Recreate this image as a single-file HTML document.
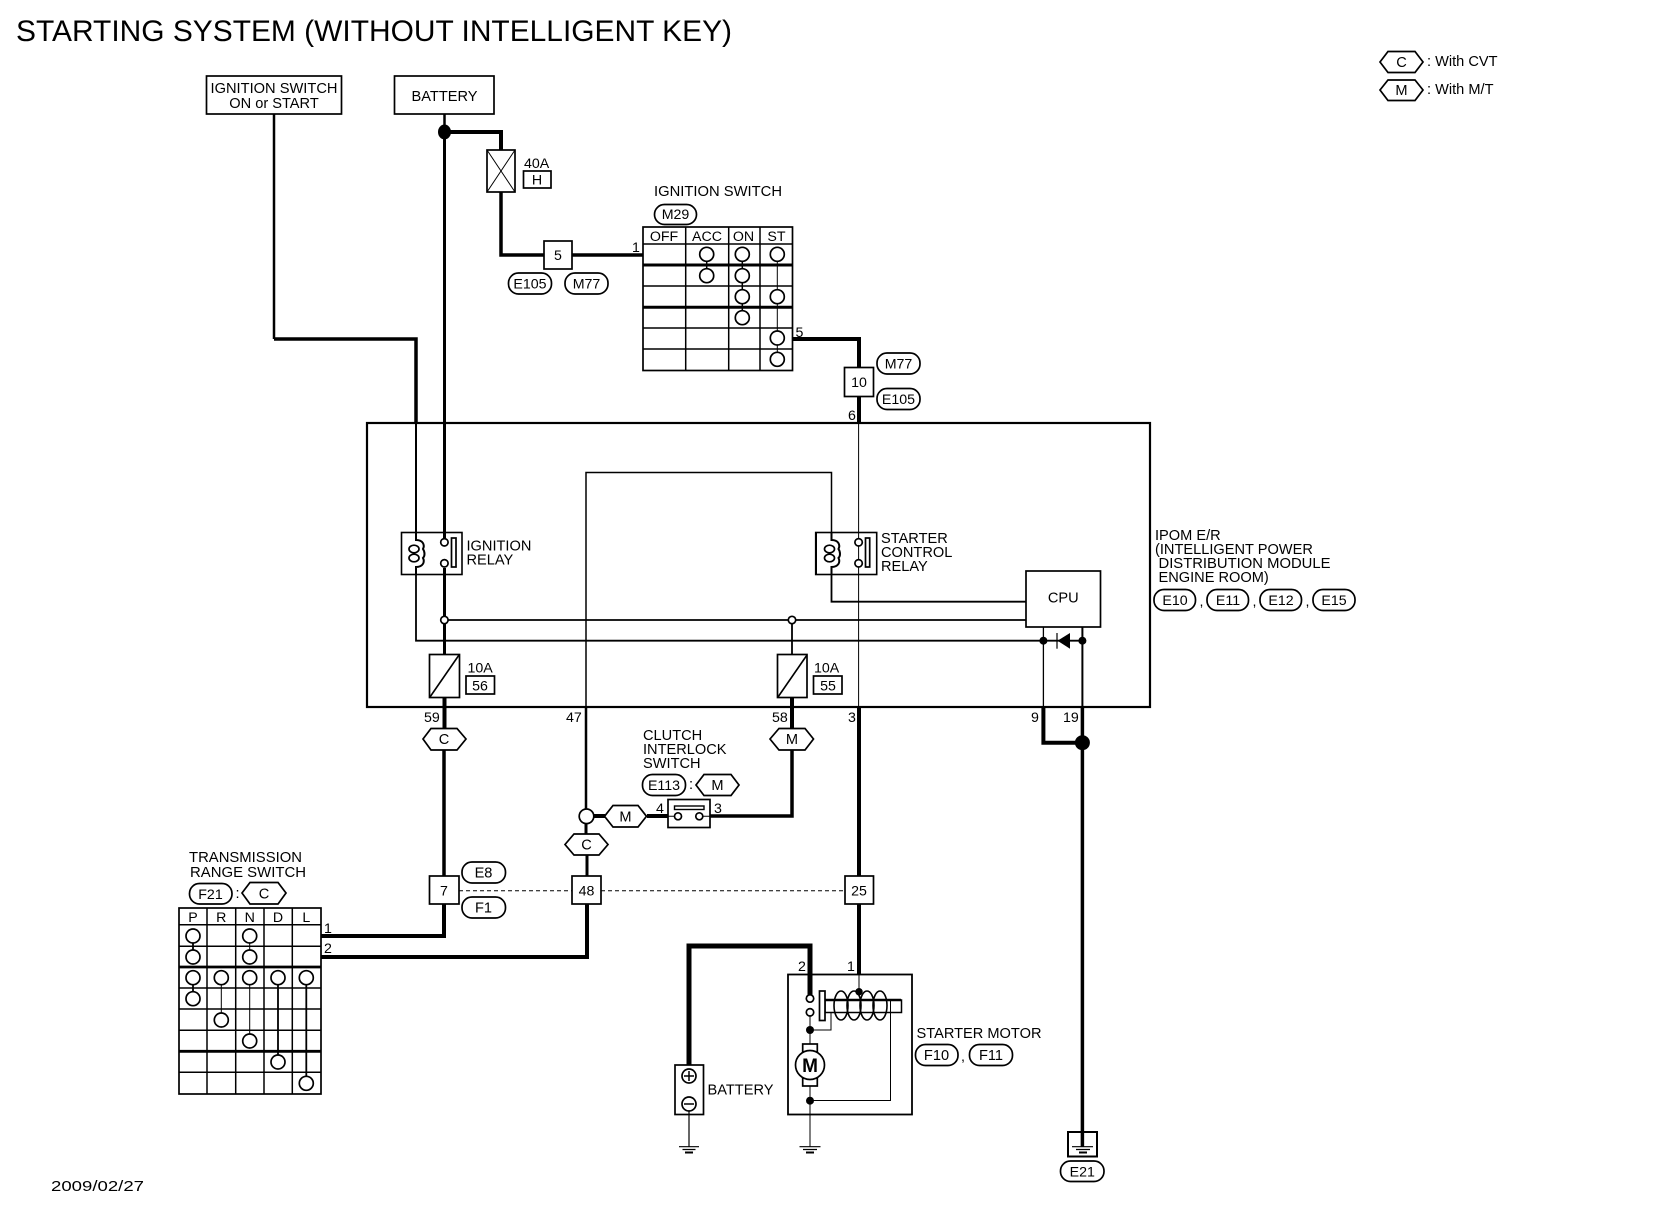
<!DOCTYPE html>
<html><head><meta charset="utf-8"><title>Starting System</title>
<style>
html,body{margin:0;padding:0;background:#fff}
svg{display:block}
text{font-family:"Liberation Sans",sans-serif;font-size:14.6px;fill:#000}
.c{text-anchor:middle}
.n{font-size:14.2px}
.e{fill:#fff;stroke:#000;stroke-width:1.7}
.l{fill:none;stroke:#000}
</style></head><body>
<svg width="1660" height="1216" viewBox="0 0 1660 1216" xmlns="http://www.w3.org/2000/svg">
<rect width="1660" height="1216" fill="#fff"/>
<text x="16" y="41" style="font-size:30px" textLength="716" lengthAdjust="spacingAndGlyphs">STARTING SYSTEM (WITHOUT INTELLIGENT KEY)</text>

<!-- legend -->
<polygon class="e" points="1380,62 1388,51.5 1415,51.5 1423,62 1415,72.5 1388,72.5"/>
<text class="c" x="1401.5" y="67">C</text>
<polygon class="e" points="1380,90 1388,80 1415,80 1423,90 1415,100.5 1388,100.5"/>
<text class="c" x="1401.5" y="95">M</text>
<text x="1427" y="66">: With CVT</text>
<text x="1427" y="94">: With M/T</text>

<!-- top boxes -->
<rect class="e" x="206.5" y="76" width="135" height="38" stroke-width="1.5"/>
<text class="c" x="274" y="93" textLength="127" lengthAdjust="spacingAndGlyphs">IGNITION SWITCH</text>
<text class="c" x="274" y="108">ON or START</text>
<rect class="e" x="394.5" y="76" width="99.5" height="38"/>
<text class="c" x="444.5" y="101">BATTERY</text>

<!-- wires -->
<g class="l">
<path stroke-width="2.5" d="M274 114V339"/>
<path stroke-width="3.5" d="M274 339H416V423"/>
<path stroke-width="2" d="M416 423V532"/>
<path stroke-width="2.5" d="M444.5 114V132"/>
<path stroke-width="3" d="M444.5 132V538"/>
<path stroke-width="4" d="M444.5 132H501V150"/>
<path stroke-width="3.5" d="M501 192V255H544"/>
<path stroke-width="3.5" d="M572 255H643"/>
<path stroke-width="4" d="M792 339H859V367"/>
<path stroke-width="4" d="M859 397V423"/>
<path stroke-width="1" d="M858.6 423V707"/>
<path stroke-width="4" d="M859 707V876"/>
<path stroke-width="4" d="M859 904V974"/>
<path stroke-width="3" d="M444.5 568V654"/>
<path stroke-width="4" d="M444.5 697V729"/>
<path stroke-width="3.5" d="M444 750V876"/>
<path stroke-width="4" d="M444 904V936H321"/>
<path stroke-width="4" d="M587 904V957H321"/>
<path stroke-width="1.8" d="M416 574V640.7H1043"/>
<path stroke-width="1.8" d="M444.5 620H1026"/>
<path stroke-width="1.8" d="M792 620V654"/>
<path stroke-width="4" d="M792 697V729"/>
<path stroke-width="3.5" d="M792 750V816H710"/>
<path stroke-width="1.5" d="M586 707V472.5H831.5V532"/>
<path stroke-width="1.8" d="M831.5 574V601.7H1026"/>
<path stroke-width="2.5" d="M586 707V809"/>
<path stroke-width="3" d="M586 824V834M587 855V876"/>
<path stroke-width="4" d="M593 816H605M647 816H668"/>
<path stroke-width="1.3" d="M1043.4 627V707"/>
<path stroke-width="2" d="M1082.4 627V707"/>
<path stroke-width="4" d="M1043.4 707V742.7H1082.4"/>
<path stroke-width="3.5" d="M1082.4 707V1147"/>
<path stroke-width="5" d="M689 1065V946H810V996"/>
<path stroke-width="1" stroke-dasharray="4 3" d="M459 890.7H572M601 890.7H845"/>
</g>
<ellipse cx="444.5" cy="132" rx="6.5" ry="7.5"/>
<circle cx="1082.4" cy="742.7" r="7.5"/>

<!-- fuse 40A -->
<rect class="e" x="487" y="150" width="28" height="42" stroke-width="2"/>
<path class="l" stroke-width="1" d="M487 150L515 192M515 150L487 192"/>
<text x="524" y="168" class="n">40A</text>
<rect class="e" x="523.5" y="171" width="27.5" height="17"/>
<text class="c n" x="537" y="184.5">H</text>

<!-- connector 5 -->
<rect class="e" x="544" y="241" width="28" height="28"/>
<text class="c n" x="558" y="260">5</text>
<rect class="e" x="508.5" y="273" width="43" height="21" rx="10"/>
<text class="c n" x="530" y="288.5">E105</text>
<rect class="e" x="565" y="273" width="43" height="21" rx="10"/>
<text class="c n" x="586.5" y="288.5">M77</text>
<text x="632" y="252" class="n">1</text>

<!-- ignition switch -->
<text x="654" y="196" textLength="128" lengthAdjust="spacingAndGlyphs">IGNITION SWITCH</text>
<rect class="e" x="654.5" y="204.5" width="42" height="20" rx="10"/>
<text class="c n" x="675.5" y="219">M29</text>
<rect class="e" x="643" y="227" width="149.5" height="143.5" stroke-width="2"/>
<g class="l" stroke-width="1.5">
<path d="M643 244H792M643 286H792M643 328H792M643 349H792"/>
<path d="M685.7 227V370M728.7 227V370M760 227V370"/>
</g>
<path class="l" stroke-width="3" d="M643 265H792M643 307.3H792"/>
<text class="c n" x="664" y="241">OFF</text>
<text class="c n" x="707" y="241">ACC</text>
<text class="c n" x="743.5" y="241">ON</text>
<text class="c n" x="776.5" y="241">ST</text>
<path class="l" stroke-width="1.5" d="M706.7 254V276M742.3 254V318"/>
<path class="l" stroke-width="1" d="M777.3 254V360"/>
<g class="e" stroke-width="1.7">
<circle cx="706.7" cy="254.3" r="7"/><circle cx="706.7" cy="275.7" r="7"/>
<circle cx="742.3" cy="254.3" r="7"/><circle cx="742.3" cy="275.7" r="7"/><circle cx="742.3" cy="296.7" r="7"/><circle cx="742.3" cy="317.7" r="7"/>
<circle cx="777.3" cy="254.3" r="7"/><circle cx="777.3" cy="296.7" r="7"/><circle cx="777.3" cy="338" r="7"/><circle cx="777.3" cy="359.3" r="7"/>
</g>
<text x="795.5" y="337" class="n">5</text>

<!-- connector 10 -->
<rect class="e" x="844.5" y="367.5" width="29" height="29"/>
<text class="c n" x="859" y="387">10</text>
<rect class="e" x="877" y="353" width="43" height="21" rx="10"/>
<text class="c n" x="898.5" y="368.5">M77</text>
<rect class="e" x="877" y="388.5" width="43" height="21" rx="10"/>
<text class="c n" x="898.5" y="404">E105</text>
<text x="848" y="420" class="n">6</text>

<!-- IPOM box -->
<rect class="l" x="367" y="423" width="783" height="284" stroke-width="2.2"/>
<text x="1155" y="540">IPOM E/R</text>
<text x="1155" y="554">(INTELLIGENT POWER</text>
<text x="1158.5" y="568" textLength="172" lengthAdjust="spacingAndGlyphs">DISTRIBUTION MODULE</text>
<text x="1158.5" y="582">ENGINE ROOM)</text>
<rect class="e" x="1154" y="589.5" width="41.5" height="21" rx="10"/><text class="c n" x="1175" y="605">E10</text>
<text x="1199.5" y="606" class="n">,</text>
<rect class="e" x="1207" y="589.5" width="41.5" height="21" rx="10"/><text class="c n" x="1228" y="605">E11</text>
<text x="1252.5" y="606" class="n">,</text>
<rect class="e" x="1260" y="589.5" width="41.5" height="21" rx="10"/><text class="c n" x="1281" y="605">E12</text>
<text x="1305.5" y="606" class="n">,</text>
<rect class="e" x="1313" y="589.5" width="42" height="21" rx="10"/><text class="c n" x="1334" y="605">E15</text>

<!-- ignition relay -->
<rect class="l" x="401.5" y="532.5" width="60.5" height="42" stroke-width="1.6"/>
<path class="l" stroke-width="2" d="M416 532V540c7 0 9 5 7 9c2 3 2 7 0 9c2 4 0 9-7 9V574"/>
<g class="l" stroke-width="1.7"><ellipse cx="414" cy="549" rx="5" ry="3.8"/><ellipse cx="414" cy="558" rx="5" ry="3.8"/></g>
<circle class="e" cx="444.4" cy="542.3" r="3.7"/><circle class="e" cx="444.4" cy="563.3" r="3.7"/>
<rect class="e" x="451.5" y="538" width="4.5" height="29"/>
<text x="466.5" y="550.5">IGNITION</text>
<text x="466.5" y="564.5">RELAY</text>

<!-- starter relay -->
<rect class="l" x="815.7" y="532.5" width="61" height="42" stroke-width="1.6"/>
<path class="l" stroke-width="2" d="M816 532.5V574.5"/>
<path class="l" stroke-width="2" d="M831.5 532V540c7 0 9 5 7 9c2 3 2 7 0 9c2 4 0 9-7 9V574"/>
<g class="l" stroke-width="1.7"><ellipse cx="829.5" cy="549" rx="5" ry="3.8"/><ellipse cx="829.5" cy="558" rx="5" ry="3.8"/></g>
<circle class="e" cx="858.6" cy="542.3" r="3.7"/><circle class="e" cx="858.6" cy="563.3" r="3.7"/>
<rect class="e" x="865.5" y="538" width="4.2" height="29"/>
<text x="881" y="543">STARTER</text>
<text x="881" y="557">CONTROL</text>
<text x="881" y="571">RELAY</text>

<!-- junctions -->
<circle class="e" cx="444.4" cy="620" r="3.7"/>
<circle class="e" cx="792" cy="620" r="3.7"/>

<!-- CPU -->
<rect class="e" x="1026" y="571" width="74.5" height="56"/>
<text class="c" x="1063.3" y="602.5">CPU</text>
<circle cx="1043.4" cy="640.7" r="4"/><circle cx="1082.4" cy="640.7" r="4"/>
<path class="l" stroke-width="1.8" d="M1043 640.7H1082"/>
<polygon points="1057.5,640.7 1070,633 1070,648.7"/>
<path class="l" stroke-width="1.2" d="M1057 633V648.7"/>

<!-- fuses 10A -->
<rect class="e" x="429.5" y="654.5" width="30" height="43" stroke-width="2"/>
<path class="l" stroke-width="1.6" d="M430 697L459 655"/>
<text x="467.5" y="672.5" class="n">10A</text>
<rect class="e" x="466" y="676" width="28.5" height="18"/>
<text class="c n" x="480" y="690.5">56</text>
<rect class="e" x="777.5" y="654.5" width="29.5" height="43" stroke-width="2"/>
<path class="l" stroke-width="1.6" d="M778 697L807 655"/>
<text x="814" y="672.5" class="n">10A</text>
<rect class="e" x="813.5" y="676" width="28.5" height="18"/>
<text class="c n" x="828" y="690.5">55</text>

<text x="424" y="722" class="n">59</text>
<text x="566" y="722" class="n">47</text>
<text x="772" y="722" class="n">58</text>
<text x="848" y="722" class="n">3</text>
<text x="1031" y="722" class="n">9</text>
<text x="1063" y="722" class="n">19</text>

<!-- hexes -->
<polygon class="e" points="423,739 431,728.5 457,728.5 466,739 457,750 431,750"/>
<text class="c" x="444" y="744">C</text>
<polygon class="e" points="770,739 779,728.5 805,728.5 813.5,739 805,750 779,750"/>
<text class="c" x="792" y="744">M</text>

<!-- clutch interlock -->
<text x="643" y="740">CLUTCH</text>
<text x="643" y="754">INTERLOCK</text>
<text x="643" y="768">SWITCH</text>
<rect class="e" x="642.5" y="774.5" width="43" height="21" rx="10"/>
<text class="c n" x="664" y="790">E113</text>
<text x="689" y="789">:</text>
<polygon class="e" points="696,785 704,774.5 731,774.5 739,785 731,795.5 704,795.5"/>
<text class="c" x="717.5" y="790">M</text>
<circle class="e" cx="586.5" cy="816.3" r="7.3"/>
<polygon class="e" points="604.5,816.3 613,805.5 638,805.5 646.5,816.3 638,827 613,827"/>
<text class="c" x="625.5" y="821.5">M</text>
<rect class="e" x="668" y="799.5" width="42" height="28"/>
<rect x="674.5" y="806" width="29.5" height="3.5" fill="#fff" stroke="#000" stroke-width="1.4"/>
<path class="l" stroke-width="1" d="M668 816.3H675M702.5 816.3H710"/>
<circle class="e" cx="678" cy="816.3" r="3.5"/><circle class="e" cx="699.3" cy="816.3" r="3.5"/>
<text x="656" y="813" class="n">4</text>
<text x="714" y="813" class="n">3</text>
<polygon class="e" points="565,844.5 574,834 599,834 608,844.5 599,855 574,855"/>
<text class="c" x="586.5" y="849.5">C</text>

<!-- connectors row -->
<rect class="e" x="429.5" y="876" width="29.5" height="28" stroke-width="2.2"/>
<text class="c n" x="444" y="895.5">7</text>
<rect class="e" x="572" y="876" width="29" height="28" stroke-width="2.2"/>
<text class="c n" x="586.5" y="895.5">48</text>
<rect class="e" x="845" y="876" width="28.5" height="28"/>
<text class="c n" x="859" y="895.5">25</text>
<rect class="e" x="462" y="862" width="43.5" height="21" rx="10"/>
<text class="c" x="483.5" y="877.5">E8</text>
<rect class="e" x="462" y="897" width="43.5" height="21" rx="10"/>
<text class="c" x="483.5" y="912.5">F1</text>

<!-- transmission range switch -->
<text x="189" y="862" textLength="113" lengthAdjust="spacingAndGlyphs">TRANSMISSION</text>
<text x="190" y="877" textLength="116" lengthAdjust="spacingAndGlyphs">RANGE SWITCH</text>
<rect class="e" x="189.5" y="883.5" width="42.5" height="20.5" rx="10"/>
<text class="c n" x="210.5" y="899">F21</text>
<text x="235.5" y="898">:</text>
<polygon class="e" points="242,893 250,882.5 278,882.5 286,893 278,904 250,904"/>
<text class="c" x="264" y="898.5">C</text>
<rect class="e" x="179" y="908" width="142" height="186" stroke-width="2"/>
<g class="l" stroke-width="1.5">
<path d="M179 924.7H321M179 946.3H321M179 988H321M179 1009H321M179 1030.3H321M179 1072.3H321"/>
<path d="M207 908V1094M235.7 908V1094M264 908V1094M292.3 908V1094"/>
</g>
<path class="l" stroke-width="2.8" d="M179 967H321M179 1051.3H321"/>
<text class="c n" x="193" y="922">P</text>
<text class="c n" x="221.3" y="922">R</text>
<text class="c n" x="249.7" y="922">N</text>
<text class="c n" x="278" y="922">D</text>
<text class="c n" x="306.3" y="922">L</text>
<path class="l" stroke-width="1.8" d="M193 936V957M193 977.7V998.7M278 977.7V1062M306.3 977.7V1083"/>
<path class="l" stroke-width="1" d="M249.7 936V957M221.3 977.7V1020M249.7 977.7V1041"/>
<g class="e" stroke-width="1.7">
<circle cx="193" cy="936" r="7"/><circle cx="249.7" cy="936" r="7"/>
<circle cx="193" cy="957" r="7"/><circle cx="249.7" cy="957" r="7"/>
<circle cx="193" cy="977.7" r="7"/><circle cx="221.3" cy="977.7" r="7"/><circle cx="249.7" cy="977.7" r="7"/><circle cx="278" cy="977.7" r="7"/><circle cx="306.3" cy="977.7" r="7"/>
<circle cx="193" cy="998.7" r="7"/>
<circle cx="221.3" cy="1020" r="7"/>
<circle cx="249.7" cy="1041" r="7"/>
<circle cx="278" cy="1062" r="7"/>
<circle cx="306.3" cy="1083.3" r="7"/>
</g>
<text x="324" y="933" class="n">1</text>
<text x="324" y="953" class="n">2</text>

<!-- battery -->
<rect class="e" x="675" y="1065" width="28.5" height="49.5" stroke-width="2"/>
<circle class="e" cx="689" cy="1076" r="7"/>
<path class="l" stroke-width="1.5" d="M684 1076H694M689 1071V1081"/>
<circle class="e" cx="689" cy="1104" r="7"/>
<path class="l" stroke-width="1.5" d="M684 1104H694"/>
<path class="l" stroke-width="1.2" d="M689 1111V1147"/>
<path class="l" stroke-width="1.2" d="M679 1146.7H699M682.5 1149.5H695.5"/>
<path class="l" stroke-width="2" d="M685 1152.5H693"/>
<text x="707.5" y="1094.5">BATTERY</text>

<!-- starter motor -->
<rect class="l" x="788" y="974.5" width="124" height="140" stroke-width="1.8"/>
<text x="798" y="971" class="n">2</text>
<text x="847" y="971" class="n">1</text>
<path class="l" stroke-width="1" d="M859 974V991"/>
<path class="l" stroke-width="1" d="M810 1015V1100V1147"/>
<g class="l" stroke-width="1.6">
<ellipse cx="841" cy="1005.5" rx="7" ry="14.5"/><ellipse cx="854" cy="1005.5" rx="7" ry="14.5"/><ellipse cx="867" cy="1005.5" rx="7" ry="14.5"/><ellipse cx="880" cy="1005.5" rx="7" ry="14.5"/>
</g>
<path class="l" stroke-width="1" d="M831 1013V1030H810M890.5 1000V1100.5H810"/>
<rect x="825" y="1000" width="76.5" height="12.5" fill="none" stroke="#000" stroke-width="1.5"/>
<path class="l" stroke-width="2.5" d="M825 1000H901"/>
<rect class="e" x="819.5" y="991" width="5.5" height="29.5"/>
<circle class="e" cx="810" cy="998.5" r="3.7"/>
<circle class="e" cx="810" cy="1012.3" r="3.7"/>
<circle cx="859" cy="991.7" r="3.7"/>
<circle cx="810" cy="1030" r="4"/>
<circle cx="810" cy="1100.7" r="4"/>
<rect class="e" x="802.7" y="1044" width="14.6" height="8"/>
<rect class="e" x="802.7" y="1078" width="14.6" height="8"/>
<circle class="e" cx="810" cy="1065" r="14.5"/>
<text class="c" x="810" y="1072" style="font-size:19px;font-weight:bold">M</text>
<path class="l" stroke-width="1.2" d="M799.5 1146.7H820.5M803 1149.5H817"/>
<path class="l" stroke-width="2" d="M806 1152.5H814"/>
<text x="916.5" y="1038" textLength="125" lengthAdjust="spacingAndGlyphs">STARTER MOTOR</text>
<rect class="e" x="915.5" y="1044.5" width="42.5" height="21" rx="10"/>
<text class="c" x="936.5" y="1060">F10</text>
<text x="961" y="1061" class="n">,</text>
<rect class="e" x="969.5" y="1044.5" width="43" height="21" rx="10"/>
<text class="c" x="991" y="1060">F11</text>

<!-- ground E21 -->
<rect class="l" x="1068" y="1132" width="29" height="24.5" stroke-width="2"/>
<path class="l" stroke-width="1.2" d="M1072 1146.7H1093M1076 1149.5H1090"/>
<path class="l" stroke-width="2" d="M1079 1152.5H1087"/>
<rect class="e" x="1060.5" y="1161" width="43.5" height="20.5" rx="10"/>
<text class="c n" x="1082.3" y="1176.5">E21</text>

<text x="51" y="1191" textLength="93" lengthAdjust="spacingAndGlyphs">2009/02/27</text>
</svg>
</body></html>
